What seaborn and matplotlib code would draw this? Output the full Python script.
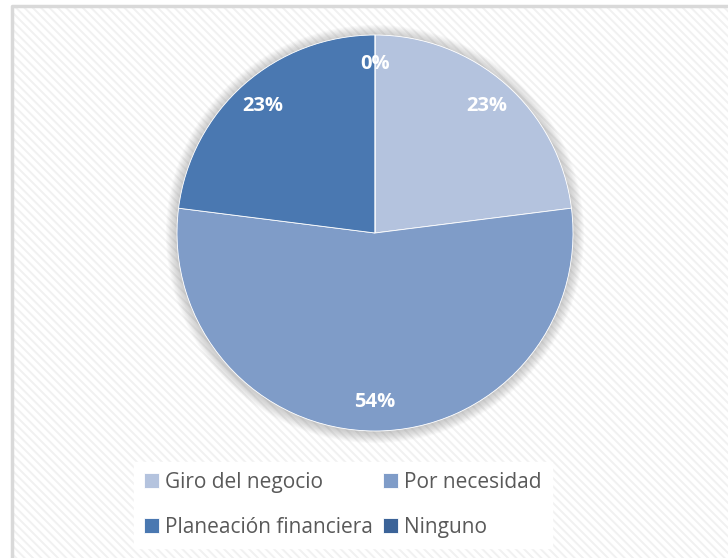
"""Pie chart: motivos para iniciar el negocio (recreated)."""
import matplotlib
matplotlib.use("Agg")
import matplotlib.pyplot as plt
from matplotlib.patches import Rectangle, Circle
import numpy as np
import seaborn as sns

# ── data ───────────────────────────────────────────────────────────────────
CATEGORIES = ["Giro del negocio", "Por necesidad", "Planeación financiera", "Ninguno"]
PERCENTS = [23, 54, 23, 0]
COLORS = ["#b4c3de", "#7f9cc8", "#4a78b1", "#3b6398"]

W, H = 728, 558            # output size in pixels
CX, CY, R = 375, 233, 198  # pie centre / radius in pixels (from top-left)


def main() -> None:
    sns.set_theme(style="white")
    plt.rcParams["font.family"] = ["Open Sans", "DejaVu Sans"]
    plt.rcParams["hatch.linewidth"] = 1.4

    fig = plt.figure(figsize=(W / 100, H / 100), dpi=100)
    fig.patch.set_facecolor("white")

    # ── hatched chart area with a light border ──
    bg = fig.add_axes([0, 0, 1, 1])
    bg.set_xlim(0, W); bg.set_ylim(H, 0); bg.axis("off")
    bg.add_patch(Rectangle((12, 6), W, H, facecolor="white", edgecolor="#f1f1f1",
                           hatch="\\\\\\\\", linewidth=0))
    bg.plot([12, 12, W], [H, 6, 6], color="#d9d9d9", lw=2.5)

    # ── pie ──
    ax = fig.add_axes([(CX - R) / W, (H - CY - R) / H, 2 * R / W, 2 * R / H])
    for i in range(14):
        ax.add_patch(Circle((0, -0.005), 1 + 0.004 * (i + 1), color="#808080",
                            alpha=0.03, lw=0, clip_on=False, zorder=0))
    ax.add_patch(Circle((0, 0), 1.0, color="white", lw=0, zorder=0.5))
    wedges, _ = ax.pie(
        PERCENTS, colors=COLORS, startangle=90, counterclock=False,
        radius=1, wedgeprops={"linewidth": 0.6, "edgecolor": "white"},
        frame=False,
    )
    for w in wedges:
        w.set_zorder(1)

    # value labels inside the slices
    total = sum(PERCENTS)
    start = 90.0
    for pct in PERCENTS:
        mid = np.deg2rad(start - 360 * pct / total / 2)
        start -= 360 * pct / total
        ax.text(0.855 * np.cos(mid), 0.855 * np.sin(mid), f"{pct}%", ha="center",
                va="center", color="white", fontsize=14.5, fontweight="bold", zorder=2)
    ax.set_xlim(-1, 1); ax.set_ylim(-1, 1)
    ax.set_aspect("auto")
    ax.axis("off")

    # ── legend (row-wise order, so reorder for column filling) ──
    order = [0, 2, 1, 3]
    leg = fig.legend(
        [wedges[i] for i in order], [CATEGORIES[i] for i in order], ncol=2,
        loc="center", bbox_to_anchor=(343 / W, 1 - 505 / H), frameon=True,
        fancybox=False, fontsize=15, handlelength=0.7, handleheight=0.7,
        handletextpad=0.3, columnspacing=0.5, labelspacing=1.15, borderpad=0.5,
    )
    leg.get_frame().set_facecolor("white")
    leg.get_frame().set_edgecolor("white")
    leg.get_frame().set_alpha(1)
    for t in leg.get_texts():
        t.set_color("#595959")

    fig.savefig("out.png", dpi=100)
    plt.close(fig)


if __name__ == "__main__":
    main()
